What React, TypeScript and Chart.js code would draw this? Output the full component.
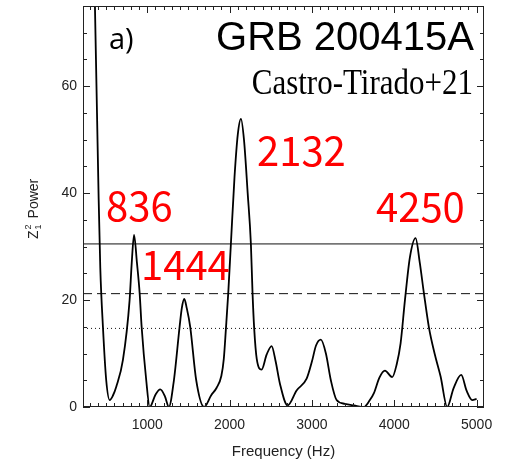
import React, { useEffect, useRef } from "react";
import { Chart, registerables } from "chart.js";

Chart.register(...registerables);

const freq = [340, 365, 390, 410, 430, 462, 502, 544, 585, 624, 705, 786, 812, 840, 875, 908, 932, 988, 1030, 1100, 1158, 1215, 1263, 1324, 1393, 1420, 1450, 1480, 1522, 1595, 1690, 1777, 1843, 1900, 1930, 1956, 1984, 2016, 2060, 2100, 2138, 2175, 2220, 2259, 2279, 2299, 2330, 2389, 2450, 2511, 2560, 2611, 2705, 2814, 2936, 3000, 3050, 3109, 3170, 3230, 3300, 3400, 3510, 3631, 3700, 3753, 3820, 3887, 3975, 4030, 4077, 4130, 4190, 4259, 4310, 4360, 4421, 4490, 4563, 4643, 4720, 4813, 4880, 4947, 5000];
const power = [95, 75, 55, 39, 26, 15, 5, 1.3, 2.2, 3.8, 8.8, 20, 27, 32.2, 27, 21.3, 15, 5, 0, 2.3, 3.3, 2, 0, 5, 15, 18.5, 20.2, 18.5, 15, 5, 0, 2.2, 3.6, 5.8, 9, 14.7, 21.3, 30.5, 43, 51, 53.9, 50, 40, 30.5, 21.3, 14.7, 9, 7, 9.8, 11.4, 8.5, 4.4, 0.3, 3.1, 5.3, 8.5, 11.5, 12.6, 10, 5, 1.3, 0.6, 0.3, 0, 1.2, 2.6, 5.5, 6.8, 5.6, 8, 11.9, 20, 28, 31.6, 27, 21.3, 14.9, 10, 5.7, 0, 3.5, 6, 3, 1.3, 1.5];

const thresholds = [30.5, 21.2, 14.7];
const xTicks = [1000, 2000, 3000, 4000, 5000];
const yTicks = [0, 20, 40, 60];
const xRange = [220, 5090];
const yRange = [0, 75];
const peakLabels = ["836", "1444", "2132", "4250"];

const labelPos: Record<string, [number, number]> = {
  "836": [106, 221],
  "1444": [141, 280],
  "2132": [257, 166],
  "4250": [376, 222],
};

const framePlugin = {
  id: "frameAndText",
  afterDraw(chart: any) {
    const ctx = chart.ctx as CanvasRenderingContext2D;
    const { left, right, top, bottom } = chart.chartArea;
    const xs = chart.scales.x;
    const ys = chart.scales.y;
    ctx.save();
    ctx.strokeStyle = "#222";
    ctx.lineWidth = 1;
    ctx.strokeRect(left + 0.5, top + 0.5, right - left - 1, bottom - top - 1);
    ctx.beginPath();
    for (let v = 300; v <= 5000; v += 100) {
      const px = Math.round(xs.getPixelForValue(v)) + 0.5;
      const len = v % 1000 === 0 ? 7 : 4;
      ctx.moveTo(px, bottom);
      ctx.lineTo(px, bottom - len);
      ctx.moveTo(px, top);
      ctx.lineTo(px, top + len);
    }
    for (let v = 0; v <= 75; v += 5) {
      const py = Math.round(ys.getPixelForValue(v)) + 0.5;
      const len = v % 20 === 0 ? 7 : 4;
      ctx.moveTo(left, py);
      ctx.lineTo(left + len, py);
      ctx.moveTo(right, py);
      ctx.lineTo(right - len, py);
    }
    ctx.stroke();

    // axis titles
    ctx.fillStyle = "#222";
    ctx.font = "15px 'Liberation Sans', Arial, sans-serif";
    ctx.textAlign = "center";
    ctx.textBaseline = "middle";
    ctx.fillText("Frequency (Hz)", (left + right) / 2, 452);

    ctx.save();
    ctx.translate(38, 239);
    ctx.rotate(-Math.PI / 2);
    ctx.textAlign = "left";
    ctx.textBaseline = "alphabetic";
    ctx.font = "14px 'Liberation Sans', Arial, sans-serif";
    ctx.fillText("Z", 0, 0);
    const zw = ctx.measureText("Z").width;
    ctx.font = "9px 'Liberation Sans', Arial, sans-serif";
    ctx.fillText("2", zw + 1, -7);
    ctx.fillText("1", zw + 1, 3);
    ctx.font = "14px 'Liberation Sans', Arial, sans-serif";
    ctx.fillText("Power", zw + 12, 0);
    ctx.restore();

    // annotations
    ctx.fillStyle = "#000";
    ctx.textBaseline = "alphabetic";
    ctx.textAlign = "left";
    ctx.font = "29px 'Open Sans', 'Liberation Sans', Arial, sans-serif";
    ctx.fillText("a)", 109, 49);

    ctx.textAlign = "right";
    ctx.font = "40px 'Liberation Sans', Arial, sans-serif";
    ctx.fillText("GRB 200415A", 474, 50);

    ctx.save();
    ctx.translate(473, 94);
    ctx.scale(1, 1.15);
    ctx.font = "31px 'Liberation Serif', 'Times New Roman', serif";
    ctx.fillText("Castro-Tirado+21", 0, 0);
    ctx.restore();

    ctx.fillStyle = "#ff0000";
    ctx.textAlign = "left";
    ctx.font = "40px 'Noto Sans CJK JP', 'Noto Sans', sans-serif";
    for (const lab of peakLabels) {
      const [lx, ly] = labelPos[lab];
      ctx.fillText(lab, lx, ly);
    }
    ctx.restore();
  },
};

export default function App() {
  const ref = useRef<HTMLCanvasElement | null>(null);
  useEffect(() => {
    document.body.style.margin = "0";
    const canvas = ref.current;
    if (!canvas) return;
    const curve = freq.map((f, i) => ({ x: f, y: power[i] }));
    const dashes: number[][] = [[], [9, 5], [1, 3]];
    const thrSets = thresholds.map((t, i) => ({
      data: [
        { x: xRange[0], y: t },
        { x: xRange[1], y: t },
      ],
      borderColor: "#111",
      borderWidth: 1,
      borderDash: dashes[i],
      pointRadius: 0,
      fill: false,
    }));
    const chart = new Chart(canvas, {
      type: "line",
      data: {
        datasets: [
          {
            data: curve,
            borderColor: "#000",
            borderWidth: 1.8,
            pointRadius: 0,
            cubicInterpolationMode: "monotone",
            fill: false,
          } as any,
          ...thrSets,
        ],
      },
      options: {
        animation: false,
        responsive: false,
        events: [],
        layout: { padding: { left: 0, top: 6, right: 24, bottom: 0 } },
        plugins: { legend: { display: false }, tooltip: { enabled: false } },
        scales: {
          x: {
            type: "linear",
            min: xRange[0],
            max: xRange[1],
            grid: { display: false, drawTicks: false },
            border: { display: false },
            afterBuildTicks: (s: any) => {
              s.ticks = xTicks.map((v) => ({ value: v }));
            },
            afterFit: (s: any) => {
              s.height = 59;
              s.paddingLeft = 0;
              s.paddingRight = 0;
            },
            ticks: {
              padding: 10,
              maxRotation: 0,
              autoSkip: false,
              color: "#222",
              font: { family: "'Liberation Sans', Arial, sans-serif", size: 14 },
              callback: (v: any) => String(v),
            },
          },
          y: {
            min: yRange[0],
            max: yRange[1],
            grid: { display: false, drawTicks: false },
            border: { display: false },
            afterBuildTicks: (s: any) => {
              s.ticks = yTicks.map((v) => ({ value: v }));
            },
            afterFit: (s: any) => {
              s.width = 83;
              s.paddingTop = 0;
              s.paddingBottom = 0;
            },
            ticks: {
              padding: 6,
              autoSkip: false,
              color: "#222",
              font: { family: "'Liberation Sans', Arial, sans-serif", size: 14 },
              callback: (v: any) => String(v),
            },
          },
        },
      },
      plugins: [framePlugin],
    });
    return () => chart.destroy();
  }, []);
  return (
    <div style={{ width: 508, height: 466 }}>
      <canvas ref={ref} width={508} height={466} />
    </div>
  );
}
